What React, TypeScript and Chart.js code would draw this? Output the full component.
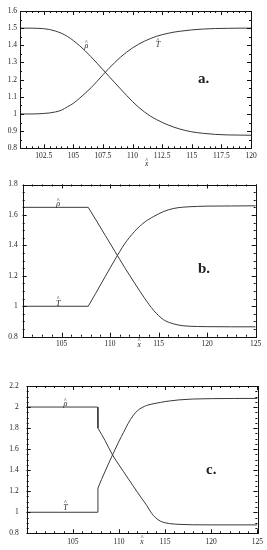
import React, { useEffect, useRef } from "react";
import { Chart, registerables } from "chart.js";
Chart.register(...registerables);

// ---------- Panel a ----------
const xA = [100.5, 101, 101.5, 102, 102.5, 103, 103.5, 104, 104.5, 105, 105.5, 106, 106.5, 107, 107.5, 108, 108.5, 109, 109.5, 110, 110.5, 111, 111.5, 112, 112.5, 113, 113.5, 114, 115, 116, 117, 118, 119, 120];
const rhoA = [1.5, 1.5, 1.5, 1.499, 1.497, 1.492, 1.483, 1.47, 1.452, 1.428, 1.4, 1.368, 1.333, 1.296, 1.258, 1.22, 1.182, 1.145, 1.108, 1.072, 1.04, 1.012, 0.988, 0.968, 0.951, 0.936, 0.923, 0.912, 0.896, 0.887, 0.881, 0.878, 0.877, 0.876];
const tA = [1.0, 1.0, 1.0, 1.001, 1.003, 1.006, 1.012, 1.022, 1.042, 1.062, 1.09, 1.12, 1.153, 1.19, 1.228, 1.265, 1.3, 1.332, 1.36, 1.385, 1.406, 1.424, 1.439, 1.452, 1.462, 1.47, 1.477, 1.482, 1.49, 1.495, 1.498, 1.499, 1.5, 1.5];
const xTicksA = [102.5, 105, 107.5, 110, 112.5, 115, 117.5, 120];
const xLabelsA = ["102.5", "105", "107.5", "110", "112.5", "115", "117.5", "120"];
const yTicksA = [0.8, 0.9, 1, 1.1, 1.2, 1.3, 1.4, 1.5, 1.6];
const yLabelsA = ["0.8", "0.9", "1", "1.1", "1.2", "1.3", "1.4", "1.5", "1.6"];

// ---------- Panel b ----------
const xB = [101, 107.75, 108.5, 109.5, 110.5, 111.5, 112.5, 113.5, 114.5, 115.5, 116.5, 117.5, 119, 120, 122.5, 125];
const rhoB = [1.65, 1.65, 1.572, 1.466, 1.36, 1.255, 1.155, 1.058, 0.972, 0.912, 0.885, 0.872, 0.867, 0.866, 0.865, 0.865];
const tB = [1.0, 1.0, 1.083, 1.195, 1.306, 1.41, 1.49, 1.55, 1.59, 1.622, 1.642, 1.651, 1.656, 1.658, 1.659, 1.66];
const xTicksB = [105, 110, 115, 120, 125];
const xLabelsB = ["105", "110", "115", "120", "125"];
const yTicksB = [0.8, 1, 1.2, 1.4, 1.6, 1.8];
const yLabelsB = ["0.8", "1", "1.2", "1.4", "1.6", "1.8"];

// ---------- Panel c ----------
const xC = [100, 107.7, 107.72, 108.5, 109.3, 110, 110.5, 111, 111.5, 112, 112.5, 113, 113.5, 114, 114.5, 115, 115.5, 116.5, 118, 120, 125];
const rhoC = [2.0, 2.0, 1.8, 1.68, 1.545, 1.45, 1.385, 1.32, 1.255, 1.19, 1.127, 1.066, 0.995, 0.945, 0.915, 0.9, 0.892, 0.885, 0.881, 0.88, 0.88];
const tC = [1.0, 1.0, 1.23, 1.39, 1.544, 1.675, 1.76, 1.845, 1.915, 1.965, 1.995, 2.015, 2.027, 2.036, 2.044, 2.052, 2.058, 2.068, 2.076, 2.08, 2.082];
const xTicksC = [105, 110, 115, 120, 125];
const xLabelsC = ["105", "110", "115", "120", "125"];
const yTicksC = [0.8, 1, 1.2, 1.4, 1.6, 1.8, 2, 2.2];
const yLabelsC = ["0.8", "1", "1.2", "1.4", "1.6", "1.8", "2", "2.2"];

const LINE = "#3a3a3a";
const TXT = "#222";
const SERIF = "'Liberation Serif', 'DejaVu Serif', serif";

function makeDatasets(xs: number[], ys: number[], k: number) {
  const pts = xs.map((x, i) => ({ x, y: ys[i] }));
  const base = { borderColor: LINE, borderWidth: 1, pointRadius: 0, fill: false };
  if (k <= 0) return [{ ...base, data: pts, cubicInterpolationMode: "monotone" as const }];
  return [
    { ...base, data: pts.slice(0, k + 1), tension: 0 },
    { ...base, data: pts.slice(k), cubicInterpolationMode: "monotone" as const },
  ];
}

const framePlugin = {
  id: "frame",
  afterDatasetsDraw(chart: any, _args: any, opts: any) {
    const { ctx, chartArea } = chart;
    const { left, right, top, bottom } = chartArea;
    const xs = chart.scales.x;
    const ys = chart.scales.y;
    ctx.save();
    ctx.strokeStyle = "#111";
    ctx.lineWidth = 1;
    ctx.strokeRect(Math.round(left) + 0.5, Math.round(top) + 0.5, Math.round(right - left), Math.round(bottom - top));
    const line = (x1: number, y1: number, x2: number, y2: number) => {
      ctx.beginPath();
      ctx.moveTo(x1, y1);
      ctx.lineTo(x2, y2);
      ctx.stroke();
    };
    const xTick = (v: number, len: number) => {
      const p = Math.round(xs.getPixelForValue(v)) + 0.5;
      line(p, bottom, p, bottom - len);
      line(p, top, p, top + len);
    };
    const yTick = (v: number, len: number) => {
      const p = Math.round(ys.getPixelForValue(v)) + 0.5;
      line(left, p, left + len, p);
      line(right, p, right - len, p);
    };
    for (let i = 0; ; i++) {
      const v = xs.min + i * opts.minorX;
      if (v > xs.max + 1e-9) break;
      xTick(v, 2);
    }
    for (let i = 0; ; i++) {
      const v = ys.min + i * opts.minorY;
      if (v > ys.max + 1e-9) break;
      yTick(v, 2);
    }
    opts.xTicks.forEach((v: number) => xTick(v, 4));
    opts.yTicks.forEach((v: number) => yTick(v, 4));

    ctx.fillStyle = TXT;
    ctx.textAlign = "center";
    ctx.textBaseline = "middle";
    for (const t of opts.texts) {
      const px = xs.getPixelForValue(t.x);
      const py = t.y !== undefined ? ys.getPixelForValue(t.y) : bottom + t.dy;
      ctx.font = t.font;
      ctx.fillText(t.text, px, py);
      if (t.hat) {
        ctx.font = `6px ${SERIF}`;
        ctx.fillText("^", px + (t.hatDx || 0), py - (t.hatUp || 5));
      }
    }
    ctx.restore();
  },
};

type PanelCfg = {
  height: number;
  padTop: number;
  padRight: number;
  yWidth: number;
  xHeight: number;
  xMin: number;
  xMax: number;
  yMin: number;
  yMax: number;
  xTicks: number[];
  xLabels: string[];
  yTicks: number[];
  yLabels: string[];
  yPad: number;
  xPad: number;
  datasets: any[];
  minorX: number;
  minorY: number;
  texts: any[];
};

function Panel({ cfg, top }: { cfg: PanelCfg; top: number }) {
  const ref = useRef<HTMLCanvasElement>(null);
  useEffect(() => {
    if (!ref.current) return;
    const tickFont = { family: SERIF, size: 7.5 };
    const chart = new Chart(ref.current, {
      type: "line",
      data: { datasets: cfg.datasets },
      plugins: [framePlugin],
      options: {
        animation: false,
        responsive: false,
        maintainAspectRatio: false,
        layout: { padding: { top: cfg.padTop, right: cfg.padRight, bottom: 0, left: 0 } },
        plugins: {
          legend: { display: false },
          tooltip: { enabled: false },
          frame: { minorX: cfg.minorX, minorY: cfg.minorY, xTicks: cfg.xTicks, yTicks: cfg.yTicks, texts: cfg.texts },
        } as any,
        scales: {
          x: {
            type: "linear",
            min: cfg.xMin,
            max: cfg.xMax,
            grid: { display: false, drawTicks: false },
            border: { display: false },
            ticks: {
              font: tickFont,
              color: TXT,
              padding: cfg.xPad,
              maxRotation: 0,
              autoSkip: false,
              callback: (_v: any, i: number) => cfg.xLabels[i],
            },
            afterBuildTicks: (s: any) => {
              s.ticks = cfg.xTicks.map((v) => ({ value: v }));
            },
            afterFit: (s: any) => {
              s.height = cfg.xHeight;
            },
          },
          y: {
            type: "linear",
            min: cfg.yMin,
            max: cfg.yMax,
            grid: { display: false, drawTicks: false },
            border: { display: false },
            ticks: {
              font: tickFont,
              color: TXT,
              padding: cfg.yPad,
              autoSkip: false,
              callback: (_v: any, i: number) => cfg.yLabels[i],
            },
            afterBuildTicks: (s: any) => {
              s.ticks = cfg.yTicks.map((v) => ({ value: v }));
            },
            afterFit: (s: any) => {
              s.width = cfg.yWidth;
            },
          },
        },
      } as any,
    });
    return () => chart.destroy();
  }, []);
  return (
    <canvas
      ref={ref}
      width={267}
      height={cfg.height}
      style={{ position: "absolute", left: 0, top, width: 267, height: cfg.height, display: "block" }}
    />
  );
}

const italic = `italic 8px ${SERIF}`;
const boldBig = `bold 15px ${SERIF}`;
const xhat = `italic 7.5px ${SERIF}`;

const panelA: PanelCfg = {
  height: 175,
  padTop: 11,
  padRight: 16,
  yWidth: 20,
  xHeight: 26.7,
  xMin: 100.5,
  xMax: 120,
  yMin: 0.8,
  yMax: 1.6,
  xTicks: xTicksA,
  xLabels: xLabelsA,
  yTicks: yTicksA,
  yLabels: yLabelsA,
  yPad: 3,
  xPad: 3,
  datasets: [...makeDatasets(xA, rhoA, 0), ...makeDatasets(xA, tA, 0)],
  minorX: 0.5,
  minorY: 0.05,
  texts: [
    { x: 106.1, y: 1.396, text: "ρ", font: italic, hat: true, hatUp: 4 },
    { x: 112.15, y: 1.4, text: "T", font: italic, hat: true },
    { x: 111.2, dy: 16, text: "x", font: xhat, hat: true, hatUp: 4 },
    { x: 116.0, y: 1.204, text: "a.", font: boldBig },
  ],
};

const panelB: PanelCfg = {
  height: 185,
  padTop: 8.3,
  padRight: 11.3,
  yWidth: 22.7,
  xHeight: 23.3,
  xMin: 101,
  xMax: 125,
  yMin: 0.8,
  yMax: 1.8,
  xTicks: xTicksB,
  xLabels: xLabelsB,
  yTicks: yTicksB,
  yLabels: yLabelsB,
  yPad: 5,
  xPad: 3,
  datasets: [...makeDatasets(xB, rhoB, 1), ...makeDatasets(xB, tB, 1)],
  minorX: 1,
  minorY: 0.05,
  texts: [
    { x: 104.65, y: 1.67, text: "ρ", font: italic, hat: true, hatUp: 4 },
    { x: 104.65, y: 1.017, text: "T", font: italic, hat: true },
    { x: 113.0, dy: 8, text: "x", font: xhat, hat: true, hatUp: 4 },
    { x: 119.67, y: 1.246, text: "b.", font: boldBig },
  ],
};

const panelC: PanelCfg = {
  height: 190,
  padTop: 26,
  padRight: 7,
  yWidth: 26.7,
  xHeight: 16.7,
  xMin: 100,
  xMax: 125,
  yMin: 0.8,
  yMax: 2.2,
  xTicks: xTicksC,
  xLabels: xLabelsC,
  yTicks: yTicksC,
  yLabels: yLabelsC,
  yPad: 8,
  xPad: 4,
  datasets: [...makeDatasets(xC, rhoC, 2), ...makeDatasets(xC, tC, 2)],
  minorX: 1,
  minorY: 0.05,
  texts: [
    { x: 104.2, y: 2.026, text: "ρ", font: italic, hat: true, hatUp: 4 },
    { x: 104.2, y: 1.044, text: "T", font: italic, hat: true },
    { x: 112.5, dy: 8.5, text: "x", font: xhat, hat: true, hatUp: 4 },
    { x: 120.0, y: 1.4, text: "c.", font: boldBig },
  ],
};

export default function App() {
  return (
    <div style={{ position: "absolute", left: 0, top: 0, width: 267, height: 550, background: "#fff" }}>
      <Panel cfg={panelA} top={0} />
      <Panel cfg={panelB} top={175} />
      <Panel cfg={panelC} top={360} />
    </div>
  );
}
